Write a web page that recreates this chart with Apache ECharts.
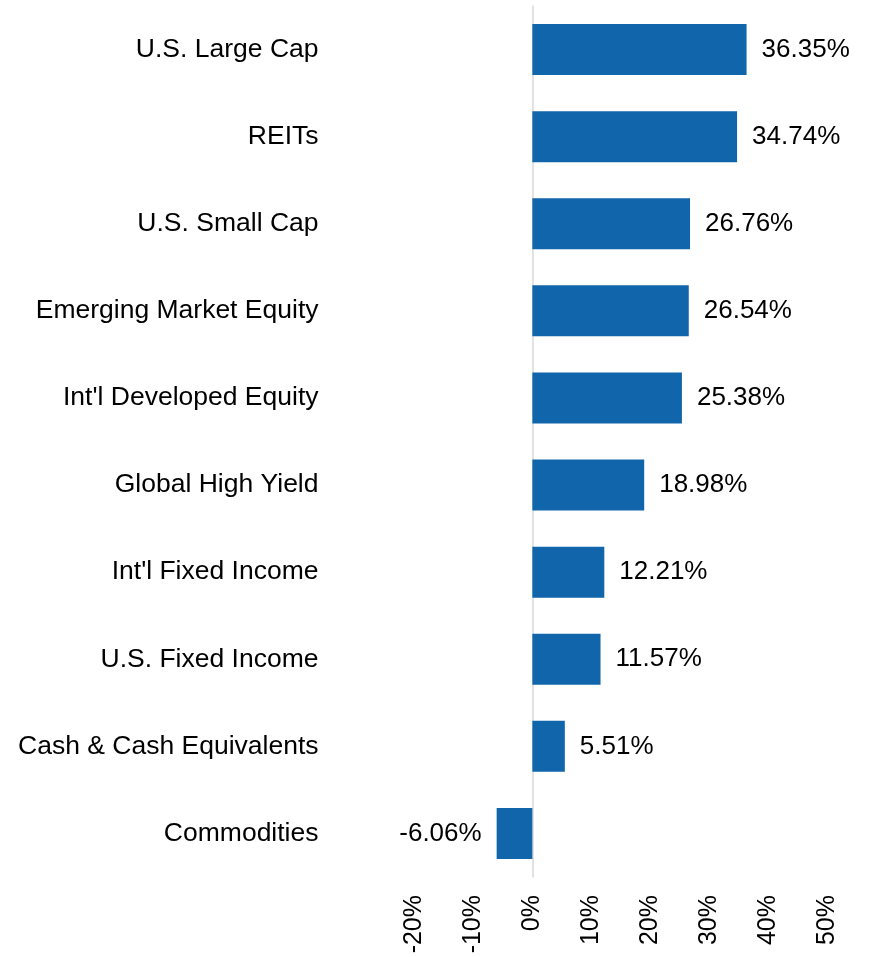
<!DOCTYPE html>
<html>
<head>
<meta charset="utf-8">
<script src="https://cdn.jsdelivr.net/npm/echarts@6/dist/echarts.min.js"></script>
<style>
html, body { margin: 0; padding: 0; background: #fff; }
#main { width: 872px; height: 957px; }
</style>
</head>
<body>
<div id="main"></div>
<script>
// 类目（自上而下）
var categories = ['U.S. Large Cap', 'REITs', 'U.S. Small Cap', 'Emerging Market Equity',
    "Int'l Developed Equity", 'Global High Yield', "Int'l Fixed Income", 'U.S. Fixed Income',
    'Cash & Cash Equivalents', 'Commodities'];
// 收益率 %
var returns = [36.35, 34.74, 26.76, 26.54, 25.38, 18.98, 12.21, 11.57, 5.51, -6.06];
// x轴刻度
var tickMin = -20, tickMax = 50, tickStep = 10;

var chart = echarts.init(document.getElementById('main'));

var barData = returns.map(function (v) {
    return {
        value: v,
        label: { position: v < 0 ? 'left' : 'right' }
    };
});

chart.setOption({
    animation: false,
    grid: { left: 414.5, right: 45, top: 6, bottom: 80, containLabel: false, outerBoundsMode: 'none' },
    textStyle: { fontFamily: 'Liberation Sans, Arial, sans-serif' },
    xAxis: {
        type: 'value',
        min: tickMin,
        max: tickMax,
        interval: tickStep,
        axisLine: { show: false },
        axisTick: { show: false },
        splitLine: { show: false },
        axisLabel: {
            rotate: 90,
            margin: 18,
            fontSize: 25,
            color: '#000',
            formatter: '{value}%'
        }
    },
    yAxis: {
        type: 'category',
        inverse: true,
        data: categories,
        axisLine: { show: true, onZero: true, lineStyle: { color: '#d9d9d9', width: 1.5 } },
        axisTick: { show: false },
        axisLabel: { margin: 96, fontSize: 26.5, color: '#000' }
    },
    series: [{
        type: 'bar',
        data: barData,
        barWidth: 51,
        itemStyle: { color: '#1165ab' },
        label: {
            show: true,
            distance: 15,
            fontSize: 26,
            color: '#000',
            formatter: function (p) { return p.value.toFixed(2) + '%'; }
        }
    }]
});
</script>
</body>
</html>
